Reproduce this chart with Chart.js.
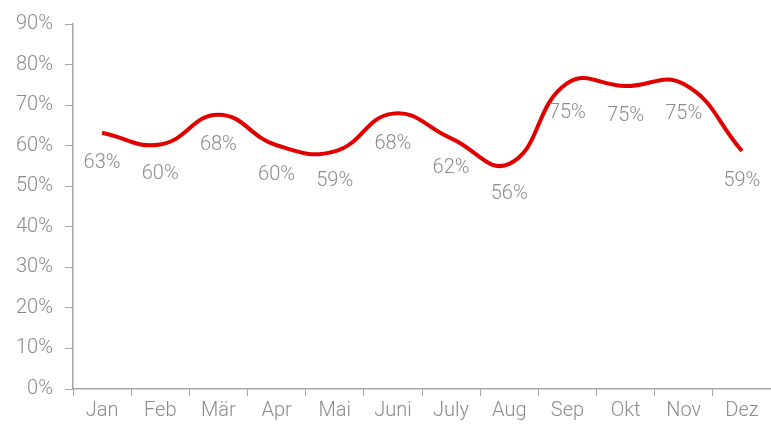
<!DOCTYPE html>
<html>
<head>
<meta charset="utf-8">
<script src="https://cdn.jsdelivr.net/npm/chart.js@4"></script>
<style>
  html, body { margin: 0; padding: 0; background: #fff; }
  #wrap { width: 771px; height: 426px; position: relative; }
</style>
</head>
<body>
<div id="wrap"><canvas id="lineChart"></canvas></div>
<script>
const months = ["Jan", "Feb", "Mär", "Apr", "Mai", "Juni", "July", "Aug", "Sep", "Okt", "Nov", "Dez"];
const rates = [63.2, 60.3, 67.6, 60.1, 58.6, 67.9, 61.8, 55.5, 75.4, 74.7, 75.2, 58.7];
const yTicks = [0, 10, 20, 30, 40, 50, 60, 70, 80, 90];

const gray = "#8c8c8c";
const axisGray = "#a6a6a6";
const fontFamily = "Roboto, 'Liberation Sans', sans-serif";

// draws the value under each point (no datalabels plugin offline)
const valueLabels = {
  id: "valueLabels",
  afterDatasetsDraw(chart) {
    const ctx = chart.ctx;
    const meta = chart.getDatasetMeta(0);
    ctx.save();
    ctx.font = "300 20px " + fontFamily;
    ctx.fillStyle = gray;
    ctx.textAlign = "center";
    ctx.textBaseline = "middle";
    meta.data.forEach((pt, i) => {
      ctx.fillText(Math.round(rates[i]) + "%", pt.x, pt.y + 30);
    });
    ctx.restore();
  },
};

const config = {
  type: "line",
  data: {
    labels: months,
    datasets: [
      {
        data: rates,
        borderColor: "#e00000",
        borderWidth: 4,
        pointRadius: 0,
        tension: 0.45,
        fill: false,
        clip: false,
      },
    ],
  },
  options: {
    responsive: true,
    maintainAspectRatio: false,
    animation: false,
    layout: { padding: { top: 22, right: 0, left: 0, bottom: 0 } },
    plugins: {
      legend: { display: false },
      tooltip: { enabled: false },
    },
    scales: {
      x: {
        offset: true,
        grid: {
          offset: true,
          drawOnChartArea: false,
          drawTicks: true,
          tickLength: 7,
          color: axisGray,
        },
        border: { color: axisGray, width: 1.5 },
        ticks: {
          color: gray,
          font: { family: fontFamily, size: 20, weight: 300 },
          padding: 3,
          maxRotation: 0,
          autoSkip: false,
        },
        afterFit(scale) {
          scale.height = 37;
        },
      },
      y: {
        min: 0,
        max: 90,
        afterBuildTicks(scale) {
          scale.ticks = yTicks.map((v) => ({ value: v }));
        },
        grid: {
          drawOnChartArea: false,
          drawTicks: true,
          tickLength: 8,
          color: axisGray,
        },
        border: { color: axisGray, width: 1.5 },
        ticks: {
          color: gray,
          font: { family: fontFamily, size: 20, weight: 300 },
          padding: 12,
          callback: (v) => v + "%",
        },
        afterFit(scale) {
          scale.width = 73;
        },
      },
    },
  },
  plugins: [valueLabels],
};

new Chart(document.getElementById("lineChart"), config);
</script>
</body>
</html>
